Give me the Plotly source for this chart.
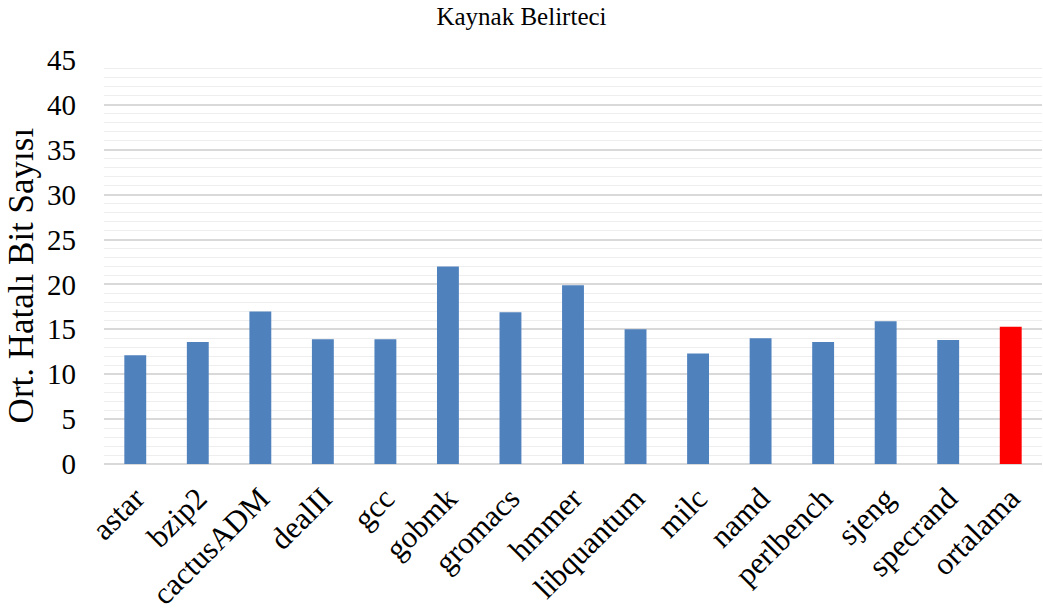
import plotly.graph_objects as go

categories = ["astar", "bzip2", "cactusADM", "dealII", "gcc", "gobmk", "gromacs", "hmmer",
              "libquantum", "milc", "namd", "perlbench", "sjeng", "specrand", "ortalama"]
values = [12.1, 13.6, 17.0, 13.9, 13.9, 22.0, 16.9, 19.9, 15.0, 12.3, 14.0, 13.6, 15.9, 13.8, 15.3]
colors = ["#4F81BD"] * 14 + ["#FF0000"]

fig = go.Figure(go.Bar(x=categories, y=values, marker=dict(color=colors, line=dict(width=0)),
                       width=0.35))

fig.update_layout(
    width=1043, height=612,
    margin=dict(l=104, r=1, t=60, b=148),
    plot_bgcolor="white", paper_bgcolor="white",
    font=dict(family="Liberation Serif", color="#000000"),
    title=dict(text="Kaynak Belirteci", x=0.5, xanchor="center", y=0.988, yanchor="top",
               font=dict(size=25, family="Liberation Serif", color="#000000")),
    showlegend=False,
)
fig.update_xaxes(tickangle=-45, tickfont=dict(size=31), showline=False, ticks="",
                 range=[-0.5, 14.5], ticklabelstandoff=9)
fig.update_yaxes(range=[0, 45], dtick=5, tickfont=dict(size=29), showgrid=True,
                 gridcolor="#d9d9d9", gridwidth=1.5, zeroline=True, zerolinecolor="#d9d9d9",
                 zerolinewidth=1.5, ticks="", ticklen=0, ticklabelstandoff=27,
                 minor=dict(dtick=1, showgrid=True, gridcolor="#eeeeee", gridwidth=1))

fig.add_annotation(text="Ort. Hatalı Bit Sayısı", textangle=-90, xref="paper", yref="paper",
                   x=-0.088, y=0.468, xanchor="center", yanchor="middle", showarrow=False,
                   font=dict(size=35, family="Liberation Serif", color="#000000"))

fig.write_html("out.html")
